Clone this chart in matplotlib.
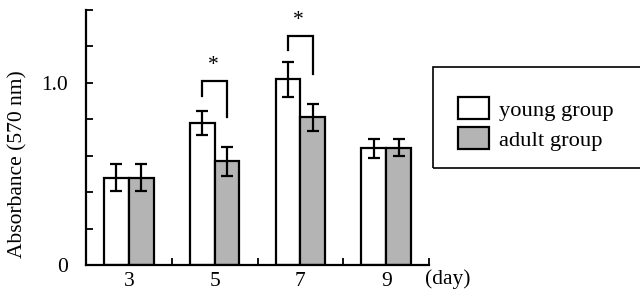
import matplotlib.pyplot as plt
import matplotlib.patches as mpatches
import numpy as np

plt.rcParams['font.family'] = ['Liberation Serif', 'DejaVu Serif']

# Data
days = ['3', '5', '7', '9']
young_mean = [0.48, 0.78, 1.02, 0.64]
young_err = [0.075, 0.065, 0.095, 0.05]
adult_mean = [0.48, 0.57, 0.81, 0.645]
adult_err = [0.075, 0.08, 0.075, 0.045]

# significance brackets: group index, top, left leg bottom, right leg bottom
sig_groups = [1, 2]
sig_top = [1.01, 1.26]
sig_left_bottom = [0.93, 1.18]
sig_right_bottom = [0.81, 1.05]

fs = 15.5
gray = '#b4b4b4'
w = 0.29

fig = plt.figure(figsize=(6.4, 3.05), dpi=100)
ax = fig.add_axes([86 / 640, 1 - 265 / 305, (429 - 86) / 640, 255 / 305])

x = np.arange(len(days)) + 0.5
err_kw = dict(ecolor='black', elinewidth=1.6, capsize=4, capthick=1.6)
ax.bar(x - w / 2, young_mean, w, yerr=young_err, color='white',
       edgecolor='black', linewidth=1.6, error_kw=err_kw, label='young group')
ax.bar(x + w / 2, adult_mean, w, yerr=adult_err, color=gray,
       edgecolor='black', linewidth=1.6, error_kw=err_kw, label='adult group')

# significance brackets
for g, top, lb, rb in zip(sig_groups, sig_top, sig_left_bottom, sig_right_bottom):
    xl = x[g] - w / 2
    xr = x[g] + w / 2
    ax.plot([xl, xl, xr, xr], [lb, top, top, rb], color='black', lw=1.6,
            solid_joinstyle='miter')
    ax.text(x[g] - 0.02, top + 0.085, '*', ha='center', va='center', fontsize=fs)

ax.set_xlim(0, 4)
ax.set_ylim(0, 1.4)
for s in ['top', 'right']:
    ax.spines[s].set_visible(False)
for s in ['left', 'bottom']:
    ax.spines[s].set_linewidth(1.6)

ax.set_yticks(np.arange(0, 1.41, 0.2))
ax.set_yticklabels(['0', '', '', '', '', '1.0', '', ''])
ax.tick_params(axis='y', direction='in', length=5, width=1.3, labelsize=fs, pad=13)

ax.set_xticks(x)
ax.set_xticklabels(days)
ax.set_xticks([1, 2, 3, 4], minor=True)
ax.tick_params(axis='x', which='major', length=0, labelsize=fs, pad=5)
ax.tick_params(axis='x', which='minor', direction='in', length=5, width=1.3)

ax.set_ylabel('Absorbance (570 nm)', fontsize=fs, va='center')
ax.yaxis.set_label_coords((18 - 86) / 343, (265 - 164) / 255)
fig.text(448 / 640, 1 - 279 / 305, '(day)', ha='center', va='center', fontsize=fs)

# legend box (right edge runs off the figure)
fig.patches.append(mpatches.Rectangle((433 / 640, 1 - 168 / 305), 0.4, 101 / 305,
                                      transform=fig.transFigure, fill=False,
                                      edgecolor='black', linewidth=1.2))
fig.legend(loc='upper left', bbox_to_anchor=(442 / 640, 1 - 81 / 305),
           frameon=False, fontsize=16.2, handlelength=1.4, handleheight=1.15,
           handletextpad=0.45, labelspacing=0.28, borderpad=0.2)

fig.savefig('out.png', dpi=100)
